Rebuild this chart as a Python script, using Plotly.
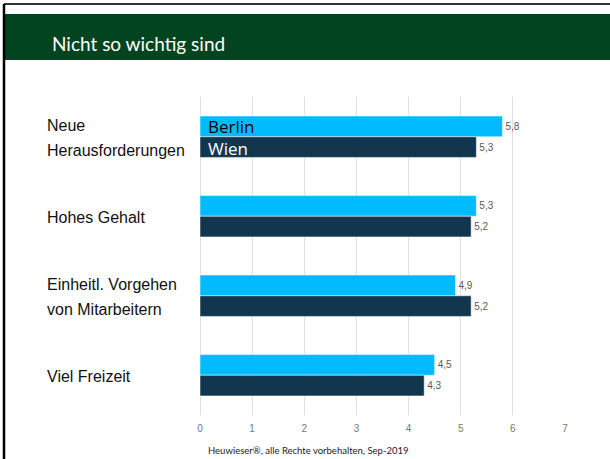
import plotly.graph_objects as go

categories = ["Neue<br>Herausforderungen", "Hohes Gehalt", "Einheitl. Vorgehen<br>von Mitarbeitern", "Viel Freizeit"]
berlin = [5.8, 5.3, 4.9, 4.5]
wien = [5.3, 5.2, 5.2, 4.3]
series_names = ["Berlin", "Wien"]
x_ticks = [0, 1, 2, 3, 4, 5, 6, 7]
title_text = "Nicht so wichtig sind"
footer_text = "Heuwieser®, alle Rechte vorbehalten, Sep-2019"

W, H = 610, 459
ML, MR, MT, MB = 200, 45, 97, 44
PW = W - ML - MR
PH = H - MT - MB

def px(x):
    return (x - ML) / PW

def py(y):
    return (H - MB - y) / PH

def fmt(v):
    return f"{v:.1f}".replace(".", ",")

fig = go.Figure()
colors = ["#00BCFF", "#12364E"]
for name, vals, col in zip(series_names, [berlin, wien], colors):
    fig.add_trace(go.Bar(
        y=categories, x=vals, name=name, orientation="h",
        marker=dict(color=col, line=dict(color="white", width=0.5)),
        text=[fmt(v) for v in vals], textposition="outside",
        textfont=dict(family="Arial", size=10, color="#595959"),
        cliponaxis=False,
    ))

annotations = []
# category labels
for i, cat in enumerate(categories):
    lines = cat.split("<br>")
    n = len(lines)
    for j, line in enumerate(lines):
        shift = (j - (n - 1) / 2) * 25
        annotations.append(dict(
            xref="paper", yref="y", x=px(45), y=cat, text=line,
            xanchor="left", yanchor="middle", showarrow=False, yshift=-shift - 1,
            font=dict(family="Arial", size=16, color="#111111"),
        ))
# series names inside first bars
for k, (name, col) in enumerate(zip(series_names, ["#000000", "#FFFFFF"])):
    annotations.append(dict(
        xref="x", yref="y", x=0, y=categories[0], text=name,
        xanchor="left", yanchor="middle", showarrow=False,
        xshift=6, yshift=(10 if k == 0 else -12),
        font=dict(family="Open Sans", size=17, color=col),
    ))
annotations.append(dict(
    xref="paper", yref="paper", x=px(50), y=py(44), text=title_text,
    xanchor="left", yanchor="middle", showarrow=False,
    font=dict(family="Lato", size=19, color="white"),
))
annotations.append(dict(
    xref="paper", yref="paper", x=px(308), y=py(450), text=footer_text,
    xanchor="center", yanchor="middle", showarrow=False,
    font=dict(family="Lato", size=9.5, color="#222222"),
))

shapes = [
    dict(type="rect", xref="paper", yref="paper", x0=px(5), x1=px(612), y0=py(60), y1=py(14),
         fillcolor="#01441F", line=dict(width=0), layer="below"),
    dict(type="line", xref="paper", yref="paper", x0=px(4), x1=px(612), y0=py(4), y1=py(4),
         line=dict(color="#333333", width=2)),
    dict(type="line", xref="paper", yref="paper", x0=px(4), x1=px(4), y0=py(4), y1=py(462),
         line=dict(color="#000000", width=2.5)),
]

fig.update_layout(
    width=W, height=H,
    margin=dict(l=ML, r=MR, t=MT, b=MB),
    paper_bgcolor="white", plot_bgcolor="white",
    barmode="group", bargap=0.48, bargroupgap=0,
    showlegend=False,
    xaxis=dict(range=[0, 7], tickvals=x_ticks, showgrid=True, gridcolor="#E0E0E0", gridwidth=1,
               zeroline=True, zerolinecolor="#E0E0E0", zerolinewidth=1, ticklabelstandoff=6,
               tickfont=dict(family="Arial", size=10, color="#777777"), ticks="", fixedrange=True),
    yaxis=dict(autorange="reversed", showticklabels=False, showgrid=False, zeroline=False, ticks=""),
    annotations=annotations,
    shapes=shapes,
)

fig.write_html("out.html", config={"displayModeBar": False},
               post_script="document.body.style.margin='0';document.body.style.overflow='hidden';")
